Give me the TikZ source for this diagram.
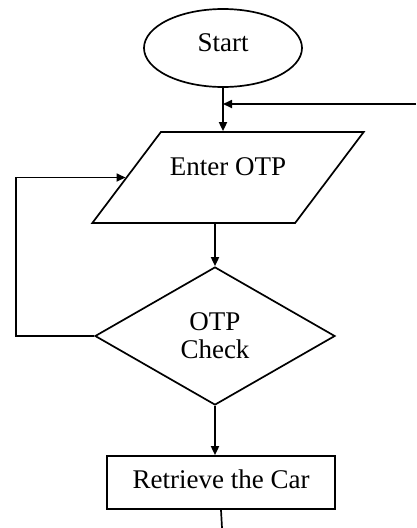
\documentclass[tikz,border=0pt]{standalone}
\usepackage{fontspec}
\setmainfont{Liberation Serif}
\usetikzlibrary{arrows.meta,positioning,calc,shapes.geometric}

\begin{document}
\begin{tikzpicture}[x=1pt,y=-1pt, line width=1.7pt,
    every node/.style={font=\fontsize{27}{28}\selectfont, draw, inner sep=0pt},
    flow/.style={-{Triangle[length=9pt,width=8pt]}}]
  \useasboundingbox (0,0) rectangle (416,528);
  \node[ellipse,minimum width=158pt,minimum height=78pt] (start) at (223,48) {\raisebox{10pt}{Start}};
  \node[trapezium,trapezium left angle=53,trapezium right angle=127,
        text height=43pt,text depth=48pt,inner xsep=9pt] (enter) at (228,177.5) {Enter OTP};
  \node[diamond,minimum width=240pt,minimum height=138pt,align=center] (check) at (215,336) {OTP\\Check};
  \node[rectangle,minimum width=228pt,minimum height=53pt] (retrieve) at (221,482.5) {\raisebox{7pt}{Retrieve the Car}};
  \coordinate (back) at (416,104);
  \coordinate (out) at (222,528);
  % main line
  \draw[flow] (start.south) -- (start.south |- enter.north);
  \draw[flow] (back) -- (back -| start.south);
  \draw[flow] (check.north |- enter.south) -- (check.north);
  \draw[flow] (check.south) -- (check.south |- retrieve.north);
  \draw (retrieve.south) -- (out);
  % retry loop
  \draw[flow] (check.west) -- ++(-78,0) |- (enter.west);
\end{tikzpicture}
\end{document}
